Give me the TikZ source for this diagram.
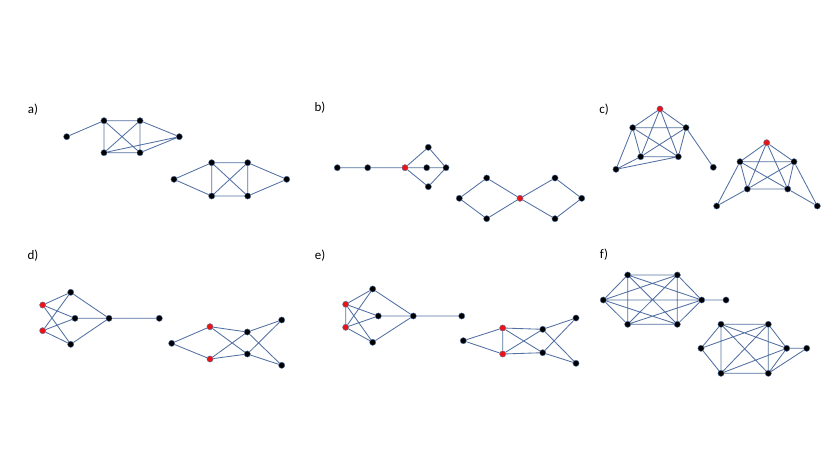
\documentclass[tikz,border=0pt]{standalone}
\usepackage{fontspec}
\setmainfont{Carlito}
\definecolor{linkblue}{RGB}{82,112,162}
\definecolor{dotred}{RGB}{235,20,20}

\begin{document}
\begin{tikzpicture}[x=1pt,y=-1pt,
  dot/.style={circle,fill=black,draw=linkblue,line width=0.4pt,inner sep=0pt,minimum size=6.2pt},
  reddot/.style={dot,fill=dotred},
  link/.style={draw=linkblue,line width=0.85pt},
  tag/.style={font=\fontsize{13}{15}\selectfont}]
\useasboundingbox (0,0) rectangle (830,467);
% labels
\node[tag] (ta) at (33,110) {a)}; \node[tag] (tb) at (320,108) {b)};
\node[tag] (tc) at (604,110) {c)}; \node[tag] (td) at (33,256) {d)};
\node[tag] (te) at (320,256) {e)}; \node[tag] (tf) at (604,255) {f)};
% a)
\node[dot] (a1) at (66.7,136.7) {}; \node[dot] (a2) at (104,120.7) {};
\node[dot] (a3) at (140,120.7) {}; \node[dot] (a4) at (179.3,136.7) {};
\node[dot] (a5) at (104,152.7) {}; \node[dot] (a6) at (140,152.7) {};
\draw[link] (a1)--(a2)--(a3)--(a4)--(a6)--(a5)--(a2)--(a6)--(a3)--(a5)--(a4);
\node[dot] (a7) at (174,179.3) {}; \node[dot] (a8) at (211.7,162.7) {};
\node[dot] (a9) at (247.7,162.7) {}; \node[dot] (a10) at (286.7,179.3) {};
\node[dot] (a11) at (211.7,196) {}; \node[dot] (a12) at (247.7,196) {};
\draw[link] (a7)--(a8)--(a9)--(a10)--(a12)--(a11)--(a7) (a8)--(a11) (a8)--(a12)
  (a9)--(a11) (a9)--(a12);
% b)
\node[dot] (b1) at (337.3,167.7) {}; \node[dot] (b2) at (367.7,167.7) {};
\node[reddot] (b3) at (405,167.7) {}; \node[dot] (b4) at (428.3,147.3) {};
\node[dot] (b5) at (426.7,167.7) {}; \node[dot] (b6) at (446,167.7) {};
\node[dot] (b7) at (428.3,186.7) {};
\draw[link] (b1)--(b2)--(b3)--(b5)--(b6) (b3)--(b4)--(b6)--(b7)--(b3);
\node[dot] (b8) at (459.3,198.3) {}; \node[dot] (b9) at (486.7,178) {};
\node[dot] (b10) at (486.7,218.7) {}; \node[reddot] (b11) at (520,198.3) {};
\node[dot] (b12) at (555,178) {}; \node[dot] (b13) at (555,218.7) {};
\node[dot] (b14) at (581.7,198.3) {};
\draw[link] (b8)--(b9)--(b11)--(b10)--(b8) (b11)--(b12)--(b14)--(b13)--(b11);
% c)
\node[reddot] (c1) at (660,109) {}; \node[dot] (c2) at (632.7,127.7) {};
\node[dot] (c3) at (686,127.7) {}; \node[dot] (c4) at (640.7,156.7) {};
\node[dot] (c5) at (678.3,156.7) {}; \node[dot] (c6) at (616,169.3) {};
\node[dot] (c7) at (713.3,167.3) {};
\draw[link] (c1)--(c2)--(c3)--(c1)--(c4)--(c5)--(c1) (c2)--(c4)--(c3)--(c5)--(c2)
  (c6)--(c2) (c6)--(c4) (c6)--(c5) (c3)--(c7);
\node[reddot] (c8) at (766.7,142.7) {}; \node[dot] (c9) at (740,161.7) {};
\node[dot] (c10) at (794,161.7) {}; \node[dot] (c11) at (747.3,189) {};
\node[dot] (c12) at (787.7,189) {}; \node[dot] (c13) at (716.7,206) {};
\node[dot] (c14) at (817.3,206) {};
\draw[link] (c8)--(c9)--(c10)--(c8)--(c11)--(c12)--(c8) (c9)--(c11)--(c10)--(c12)--(c9)
  (c13)--(c9) (c13)--(c11) (c14)--(c10) (c14)--(c12);
% d)
\node[reddot] (d1) at (42.7,305) {}; \node[reddot] (d2) at (42.7,330.7) {};
\node[dot] (d3) at (70.7,292.3) {}; \node[dot] (d4) at (75,318.3) {};
\node[dot] (d5) at (70.7,344.3) {}; \node[dot] (d6) at (109,318.3) {};
\node[dot] (d7) at (159.3,318.3) {};
\draw[link] (d1)--(d3)--(d2)--(d4)--(d1)--(d5)--(d2) (d3)--(d6)--(d4) (d5)--(d6)--(d7);
\node[dot] (d8) at (171.7,343.3) {}; \node[reddot] (d9) at (210,326.7) {};
\node[reddot] (d10) at (210,359) {}; \node[dot] (d11) at (247.3,332) {};
\node[dot] (d12) at (247.3,354) {}; \node[dot] (d13) at (281.7,320) {};
\node[dot] (d14) at (281.7,365.3) {};
\draw[link] (d9)--(d8)--(d10) (d9)--(d11)--(d10)--(d12)--(d9)
  (d11)--(d13)--(d12)--(d14)--(d11);
% e)
\node[reddot] (e1) at (345.7,304.3) {}; \node[reddot] (e2) at (345.7,327.3) {};
\node[dot] (e3) at (372.7,289) {}; \node[dot] (e4) at (378.3,316) {};
\node[dot] (e5) at (372.7,342.3) {}; \node[dot] (e6) at (413.3,316) {};
\node[dot] (e7) at (461.7,316) {};
\draw[link] (e1)--(e3)--(e2)--(e4)--(e1)--(e5)--(e2)--(e1) (e3)--(e6)--(e4) (e5)--(e6)--(e7);
\node[dot] (e8) at (463.3,340.7) {}; \node[reddot] (e9) at (502.7,328) {};
\node[reddot] (e10) at (502.7,354) {}; \node[dot] (e11) at (542.7,329.3) {};
\node[dot] (e12) at (542.7,352.7) {}; \node[dot] (e13) at (576,318) {};
\node[dot] (e14) at (576,363.3) {};
\draw[link] (e9)--(e8)--(e10)--(e9) (e9)--(e11)--(e10)--(e12)--(e9)
  (e11)--(e13)--(e12)--(e14)--(e11);
% f)
\node[dot] (f1) at (603.3,300) {}; \node[dot] (f2) at (627.7,275) {};
\node[dot] (f3) at (677.3,275) {}; \node[dot] (f4) at (701.7,300) {};
\node[dot] (f5) at (627.7,324.3) {}; \node[dot] (f6) at (677.3,324.3) {};
\node[dot] (f7) at (726,300) {};
\draw[link] (f1)--(f2)--(f3)--(f4)--(f6)--(f5)--(f1)--(f3)--(f5)--(f2)--(f6)--(f1)--(f4)--(f2)
  (f3)--(f6) (f5)--(f4)--(f7);
\node[dot] (f8) at (701,348.3) {}; \node[dot] (f9) at (721,324.3) {};
\node[dot] (f10) at (768.3,324.3) {}; \node[dot] (f11) at (786.7,348.3) {};
\node[dot] (f12) at (721,373.3) {}; \node[dot] (f13) at (768.3,373.3) {};
\node[dot] (f14) at (806.7,348.3) {};
\draw[link] (f8)--(f9)--(f10)--(f11)--(f13)--(f12)--(f8)--(f10)--(f12)--(f9)--(f13)--(f10)
  (f9)--(f11)--(f12) (f11)--(f14)--(f13);
\end{tikzpicture}
\end{document}
